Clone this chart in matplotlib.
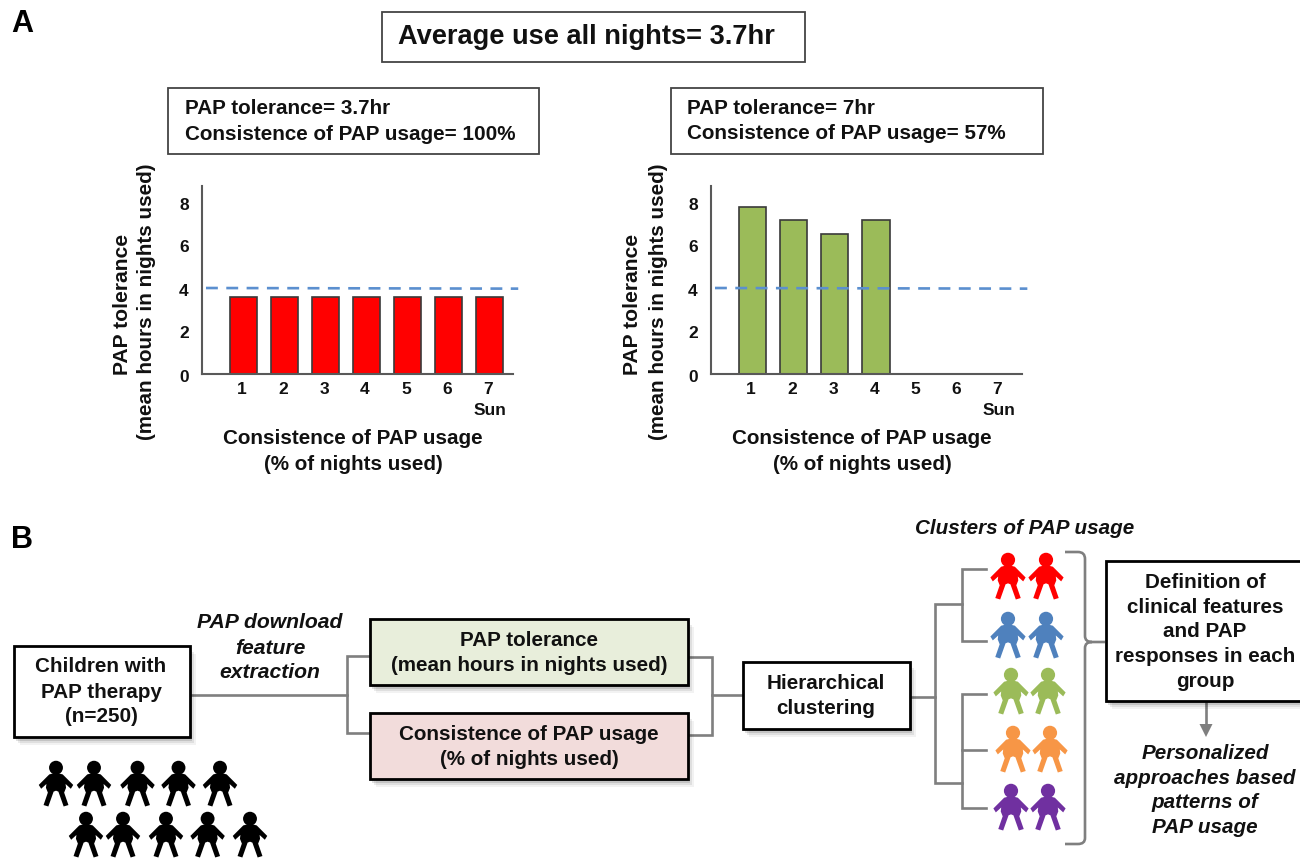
import matplotlib
matplotlib.use("Agg")
import matplotlib.pyplot as plt
from matplotlib.patches import Rectangle, Polygon, Ellipse, PathPatch
from matplotlib.path import Path
from matplotlib.transforms import ScaledTranslation

plt.rcParams["font.family"] = ["Liberation Sans", "DejaVu Sans"]
plt.rcParams["font.weight"] = "bold"

W, H = 1300, 859

nights = [1, 2, 3, 4, 5, 6, 7]
y_ticks = [0, 2, 4, 6, 8]
tolerance_left = [3.6, 3.6, 3.6, 3.6, 3.6, 3.6, 3.6]
tolerance_right = [7.77, 7.16, 6.5, 7.16, 0, 0, 0]
threshold = [4, 3.97]

GRAY = "#7f7f7f"
DASH = "#5b8fcf"
BAR_EDGE = "#3a3a3a"

RED = "#ff0000"
BLUE = "#4f81bd"
GREEN = "#9bbb59"
ORANGE = "#f79646"
PURPLE = "#7030a0"

# right half of the little person, px from the top of the head
PERSON_HALF = [(0, 12), (3, 13), (7, 14), (18, 25), (15.5, 29), (10, 24), (10.5, 28), (8.5, 33),
               (13, 46), (8, 47.5), (2.5, 32), (0, 31)]


fig = plt.figure(figsize=(W / 100, H / 100), dpi=100)
bg = fig.add_axes([0, 0, 1, 1])
bg.set_xlim(0, W)
bg.set_ylim(H, 0)
bg.axis("off")


def box(x0, y0, x1, y1, face="white", edge="black", lw=2.0, shadow=True):
    if shadow:
        for i, a in zip([8, 6, 4, 2], [0.05, 0.08, 0.12, 0.15]):
            bg.add_patch(Rectangle((x0 + i - 2, y0 + i), x1 - x0, y1 - y0,
                                   fc="black", ec="none", alpha=a, zorder=2))
    bg.add_patch(Rectangle((x0, y0), x1 - x0, y1 - y0, fc=face, ec=edge, lw=lw, zorder=3))


def label(x, y, s, size=14.9, style="normal", ha="center", color="#111111"):
    # va center sits about 3 px high for this font
    bg.text(x, y + 2.5, s, fontsize=size, style=style, ha=ha, va="center", color=color, zorder=5)


def person(cx, top, color, height=46):
    k = height / 47
    right = [(cx + dx * k, top + dy * k) for dx, dy in PERSON_HALF]
    left = [(cx - dx * k, top + dy * k) for dx, dy in reversed(PERSON_HALF)]
    bg.add_patch(Polygon(right + left, fc=color, ec="none", zorder=4))
    bg.add_patch(Ellipse((cx, top + 7 * k), 14.5 * k, 14.5 * k, fc=color, ec="none", zorder=4))


def connector(xs, ys):
    bg.plot(xs, ys, color=GRAY, lw=1.9, solid_joinstyle="miter", zorder=1)


def bar_panel(x0, x1, values, color, dash_x):
    # axes box in px: top 186, baseline 374
    ax = fig.add_axes([x0 / W, 1 - 374 / H, (x1 - x0) / W, (374 - 186) / H])
    ax.patch.set_alpha(0)
    ax.bar(nights, values, width=0.67, color=color, edgecolor=BAR_EDGE, linewidth=1.2)
    ax.plot(dash_x, threshold, color=DASH, lw=1.9, dashes=(4.5, 3.2), clip_on=False, zorder=4)
    ax.set_xlim(-0.012, 7.56)
    ax.set_ylim(0, 188 / 21.5)
    ax.set_xticks(nights)
    ax.set_yticks(y_ticks)
    ax.tick_params(axis="both", length=0, labelsize=12.5, labelcolor="#111111")
    ax.tick_params(axis="x", pad=6)
    ax.tick_params(axis="y", pad=9.5)
    for t in ax.get_yticklabels():
        t.set_transform(t.get_transform() + ScaledTranslation(0, -1.5 / 100, fig.dpi_scale_trans))
    for t in ax.get_xticklabels():
        t.set_transform(t.get_transform() + ScaledTranslation(-1.5 / 100, 0, fig.dpi_scale_trans))
    for side in ["top", "right"]:
        ax.spines[side].set_visible(False)
    for side in ["left", "bottom"]:
        ax.spines[side].set_color("#595959")
        ax.spines[side].set_linewidth(1.5)
    return ax


# panel A
label(11, 22, "A", size=22, ha="left", color="black")
box(382, 12, 805, 62, edge="#444444", lw=1.3, shadow=False)
label(398, 35, "Average use all nights= 3.7hr", size=19.6, ha="left")

box(168, 88, 538.5, 154, edge="#444444", lw=1.3, shadow=False)
label(185, 106, "PAP tolerance= 3.7hr", ha="left")
label(185, 132, "Consistence of PAP usage= 100%", ha="left")

box(671, 88, 1043, 154, edge="#444444", lw=1.3, shadow=False)
label(687, 106, "PAP tolerance= 7hr", ha="left")
label(687, 131, "Consistence of PAP usage= 57%", ha="left")

bar_panel(202, 512.5, tolerance_left, RED, [0.085, 7.70])
bar_panel(711, 1022, tolerance_right, GREEN, [0.085, 7.69])

for x_sun, x_lab, x_a, x_b in [(490, 353, 122, 147), (999, 862, 633, 659)]:
    label(x_sun, 408, "Sun", size=12.5)
    label(x_lab, 436, "Consistence of PAP usage")
    label(x_lab, 462, "(% of nights used)")
    bg.text(x_a, 304, "PAP tolerance", fontsize=15.2, rotation=90, ha="center", va="center", color="#111111")
    bg.text(x_b, 302, "(mean hours in nights used)", fontsize=14.9, rotation=90, ha="center", va="center", color="#111111")

# panel B
label(11, 537, "B", size=22, ha="left", color="black")

connector([190, 347], [695, 695])
connector([370, 347, 347, 370], [656, 656, 733, 733])
connector([688, 711.5, 711.5, 688], [657, 657, 735, 735])
connector([711.5, 743], [695, 695])
connector([910, 935], [697, 697])
connector([962, 935, 935, 962], [604, 604, 783, 783])
connector([986, 962, 962, 986], [569, 569, 641, 641])
connector([986, 962, 962, 986], [694, 694, 808, 808])
connector([962, 986], [750, 750])

bracket = Path(
    [(1065, 552), (1078, 552), (1085, 552), (1085, 559), (1085, 636), (1085, 642), (1092, 642), (1105, 642),
     (1092, 642), (1085, 642), (1085, 648), (1085, 838), (1085, 844), (1078, 844), (1065, 844)],
    [Path.MOVETO, Path.LINETO, Path.CURVE3, Path.CURVE3, Path.LINETO, Path.CURVE3, Path.CURVE3, Path.LINETO,
     Path.MOVETO, Path.CURVE3, Path.CURVE3, Path.LINETO, Path.CURVE3, Path.CURVE3, Path.LINETO],
)
bg.add_patch(PathPatch(bracket, fc="none", ec=GRAY, lw=1.9, zorder=1))

box(14, 646, 190, 737)
label(101, 664, "Children with")
label(101, 690, "PAP therapy")
label(101, 714, "(n=250)")

label(270, 620, "PAP download", size=15.2, style="italic")
label(270, 646, "feature", size=15.2, style="italic")
label(270, 670, "extraction", size=15.2, style="italic")

box(370, 619, 688, 685, face="#e8eedb")
label(529, 638, "PAP tolerance")
label(529, 663, "(mean hours in nights used)")

box(370, 713, 688, 779, face="#f2dcdb")
label(529, 732, "Consistence of PAP usage")
label(529, 757, "(% of nights used)")

box(743, 662, 910, 729)
label(825.5, 681, "Hierarchical")
label(825.5, 706, "clustering")

box(1106, 561, 1320, 701)
for y, s in zip([580, 605, 629, 654, 679],
                ["Definition of", "clinical features", "and PAP", "responses in each", "group"]):
    label(1205, y, s)

bg.plot([1206, 1206], [701, 726], color=GRAY, lw=1.9, zorder=1)
bg.add_patch(Polygon([(1199.5, 724), (1212.5, 724), (1206, 737)], fc=GRAY, ec="none", zorder=1))

for y, s in zip([751, 776, 800, 825],
                ["Personalized", "approaches based", "patterns of", "PAP usage"]):
    label(1205, y, s, style="italic")
label(1024.5, 526, "Clusters of PAP usage", style="italic")

for x in [56, 94, 137.5, 178.5, 220]:
    person(x, 761, "black", 45)
for x in [86, 123, 166, 207.6, 250]:
    person(x, 812, "black", 45)

for color, xs, top in [(RED, [1008, 1046], 553), (BLUE, [1008, 1046], 612),
                       (GREEN, [1011, 1048], 668), (ORANGE, [1013, 1050], 726),
                       (PURPLE, [1011, 1048], 784)]:
    for x in xs:
        person(x, top, color)

fig.savefig("out.png", dpi=100)
